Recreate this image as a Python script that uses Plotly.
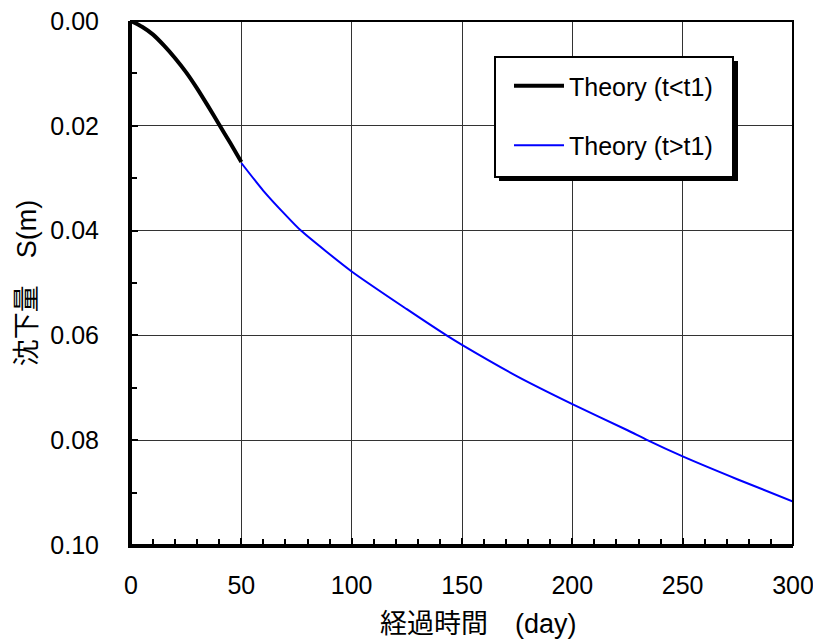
import plotly.graph_objects as go

# Theory (t<t1): elapsed time (day) and settlement S (m)
t_early = [0, 5, 10, 15, 20, 25, 30, 35, 40, 45, 50]
s_early = [0.0, 0.0011, 0.0026, 0.0047, 0.0071, 0.0098, 0.0129, 0.0163, 0.0198, 0.0233, 0.0269]

# Theory (t>t1)
t_late = [50, 60, 70, 77, 100, 125, 143, 150, 175, 200, 225, 234, 250, 275, 300]
s_late = [0.0271, 0.0324, 0.0370, 0.0400, 0.0478, 0.0550, 0.0600, 0.0618, 0.0678,
          0.0731, 0.0781, 0.0800, 0.0831, 0.0875, 0.0917]

name_early = "Theory (t<t1)"
name_late = "Theory (t>t1)"
x_title = "経過時間　(day)"
y_title = "沈下量　S(m)"

FONT = "Liberation Sans, Arial, Noto Sans CJK JP, sans-serif"

fig = go.Figure()
fig.add_trace(go.Scatter(x=t_early, y=s_early, mode="lines", name=name_early,
                         line=dict(color="black", width=4, shape="spline", smoothing=0.6),
                         legendgroup="a"))
fig.add_trace(go.Scatter(x=t_late, y=s_late, mode="lines", name=name_late,
                         line=dict(color="#0000ff", width=2, shape="spline", smoothing=0.6),
                         legendgroup="b"))

axis_common = dict(
    showline=True, linecolor="black", linewidth=3, mirror=False,
    ticks="inside", ticklen=7, tickwidth=2, tickcolor="black",
    showgrid=True, gridcolor="#333333", gridwidth=1,
    zeroline=False, automargin=False, ticklabeloverflow="allow",
    tickfont=dict(family=FONT, size=25, color="black"),
)

fig.update_layout(
    width=813, height=644,
    margin=dict(l=131, r=20, t=21, b=99),
    paper_bgcolor="white", plot_bgcolor="white",
    font=dict(family=FONT, color="black"),
    xaxis=dict(range=[0, 300], dtick=50, tick0=0,
               minor=dict(dtick=10, ticks="inside", ticklen=6, tickwidth=2,
                          tickcolor="black", showgrid=False),
               ticklabelstandoff=16,
               **axis_common),
    yaxis=dict(range=[0.10, 0], dtick=0.02, tick0=0, tickformat=".2f",
               minor=dict(dtick=0.01, ticks="inside", ticklen=6, tickwidth=2,
                          tickcolor="black", showgrid=False),
               title=dict(text=y_title, font=dict(family=FONT, size=27), standoff=6),
               ticklabelstandoff=24,
               **axis_common),
    legend=dict(x=(509 - 131) / 662, y=(545 - 63) / 524, xanchor="left", yanchor="top",
                bgcolor="rgba(0,0,0,0)", borderwidth=0,
                font=dict(family=FONT, size=25, color="black"),
                tracegroupgap=24, itemwidth=50),
    showlegend=True,
)

# x-axis title (placed slightly right of centre, as in the original)
fig.add_annotation(text=x_title, xref="paper", yref="paper",
                   x=0.5, y=(545 - 607) / 524, xanchor="center", yanchor="top",
                   xshift=16, showarrow=False,
                   font=dict(family=FONT, size=27, color="black"))

# plot frame (top / right)
fig.add_shape(type="rect", xref="paper", yref="paper", x0=0, x1=1, y0=0, y1=1,
              line=dict(color="black", width=2), layer="above")
# legend drop shadow and legend box
fig.add_shape(type="rect", xref="paper", yref="paper",
              x0=(499 - 131) / 662, x1=(738 - 131) / 662,
              y0=(545 - 181) / 524, y1=(545 - 61) / 524,
              fillcolor="black", line=dict(width=0), layer="above")
fig.add_shape(type="rect", xref="paper", yref="paper",
              x0=(495 - 131) / 662, x1=(733 - 131) / 662,
              y0=(545 - 177) / 524, y1=(545 - 57) / 524,
              fillcolor="white", line=dict(color="black", width=2), layer="above")

fig.write_html("out.html")
